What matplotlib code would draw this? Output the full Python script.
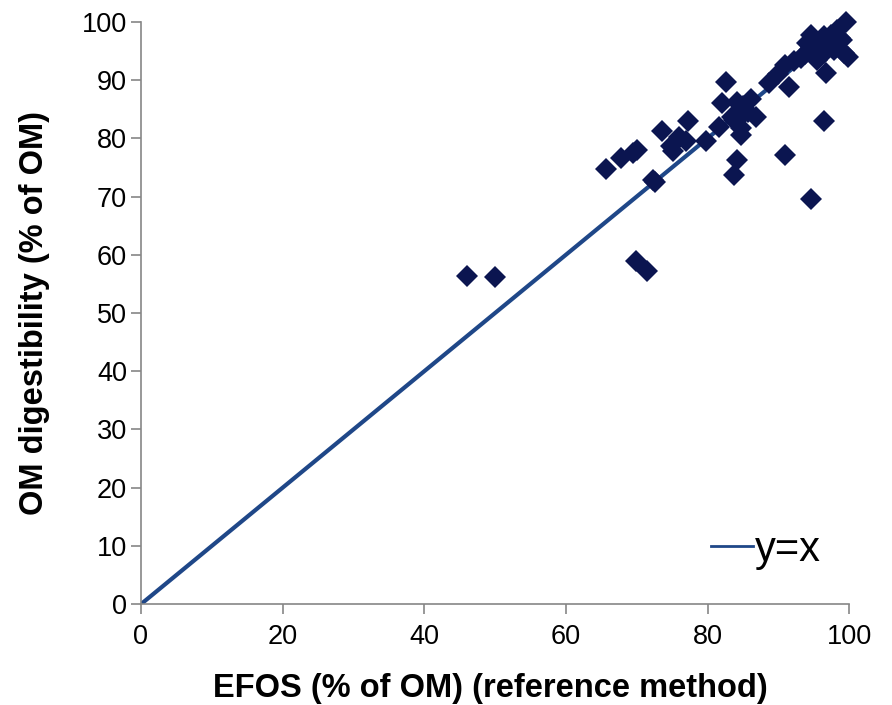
import numpy as np
import matplotlib
matplotlib.use("Agg")
import matplotlib.pyplot as plt

# EFOS reference values (x) and OM digestibility (y)
efos = [46.0, 50.0, 65.6, 67.8, 69.5, 70.1, 69.9, 71.5, 72.3, 72.6,
        73.6, 74.9, 75.1, 76.0, 77.3, 77.0, 79.8, 81.6, 82.6, 82.0,
        83.5, 84.2, 84.7, 84.7, 85.2, 85.7, 86.1, 86.8, 85.0, 84.2,
        83.8, 83.8, 88.7, 89.9, 91.0, 92.2, 93.2, 91.5, 91.0, 94.6,
        96.4, 96.7, 94.1, 95.0, 96.4, 98.3, 99.5, 99.3, 97.8, 96.4,
        95.5, 98.3, 94.6, 96.9, 98.7, 97.5, 95.5, 99.0, 93.8, 94.6,
        99.9]
om_dig = [56.3, 56.2, 74.7, 76.6, 77.5, 78.0, 58.9, 57.2, 72.9, 72.5,
          81.2, 78.6, 77.8, 80.3, 83.0, 79.5, 79.6, 82.0, 89.6, 86.1,
          83.7, 86.3, 81.7, 80.6, 84.3, 84.6, 86.7, 83.7, 85.5, 76.3,
          73.7, 83.2, 89.5, 91.0, 92.6, 93.2, 93.8, 88.8, 77.1, 69.5,
          82.9, 91.2, 96.3, 96.9, 97.5, 98.6, 100.0, 94.6, 95.2, 94.6,
          93.5, 96.3, 95.5, 96.0, 97.3, 97.8, 95.0, 96.8, 94.5, 97.8,
          94.0]
line_x = [0, 100]

plt.rcParams['font.family'] = ['Liberation Sans', 'DejaVu Sans']

fig = plt.figure(figsize=(8.92, 7.05), dpi=100)
ax = fig.add_axes([0.158, 0.143, 0.794, 0.826])

ax.plot(line_x, line_x, color='#1f4788', lw=3, label='y=x', zorder=2)
ax.plot(efos, om_dig, 'D', color='#0b1550', markersize=11, mew=0,
        zorder=3, clip_on=False)

ax.set_xlim(0, 100)
ax.set_ylim(0, 100)
ax.set_xticks(np.arange(0, 101, 20))
ax.set_yticks(np.arange(0, 101, 10))

for s in ['top', 'right']:
    ax.spines[s].set_visible(False)
for s in ['left', 'bottom']:
    ax.spines[s].set_color('#868686')
    ax.spines[s].set_linewidth(1.2)
ax.tick_params(direction='out', length=7, width=1.2, color='#868686',
               labelsize=19.5)
ax.tick_params(axis='x', pad=7)
ax.tick_params(axis='y', pad=3)

ax.set_xlabel('EFOS (% of OM) (reference method)', fontsize=23.5,
              fontweight='bold', va='center')
ax.set_ylabel('OM digestibility (% of OM)', fontsize=23.5,
              fontweight='bold', va='center')
ax.xaxis.set_label_coords(0.493, -0.144)
ax.yaxis.set_label_coords(-0.150, 0.5)

leg = ax.legend(loc='center right', bbox_to_anchor=(0.96, 0.093),
                frameon=False, fontsize=30, handlelength=1.0,
                handletextpad=0.05, borderpad=0, borderaxespad=0)
leg.get_lines()[0].set_linewidth(2)

fig.savefig('out.png', dpi=100)
